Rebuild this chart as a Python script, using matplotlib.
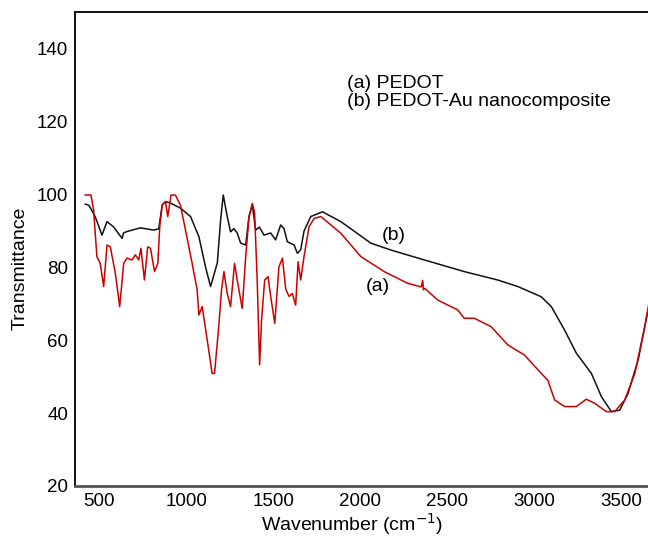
#!/usr/bin/env python3
from __future__ import annotations

import matplotlib

matplotlib.use("Agg")
import matplotlib.pyplot as plt

# (a) PEDOT  -- wavenumber (cm^-1) / transmittance
wn_a = [419, 452, 467, 486, 505, 525, 544, 563, 592, 617, 640, 659, 688, 707, 726, 739,
        759, 778, 794, 817, 836, 847, 861, 880, 893, 903, 912, 937, 966, 995, 1033, 1062,
        1072, 1091, 1120, 1148, 1162, 1186, 1202, 1216, 1235, 1254, 1277, 1292, 1321, 1341,
        1360, 1379, 1392, 1407, 1421, 1432, 1450, 1469, 1485, 1508, 1532, 1552, 1571, 1590,
        1609, 1628, 1642, 1657, 1676, 1705, 1734, 1773, 1888, 2003, 2137, 2271, 2350, 2358,
        2362, 2370, 2444, 2559, 2597, 2655, 2751, 2847, 2943, 3039, 3077, 3116, 3173, 3241,
        3298, 3346, 3413, 3461, 3519, 3577, 3634, 3661]
tr_a = [99.8, 99.8, 95.7, 82.9, 81.0, 74.7, 86.1, 85.6, 78.3, 69.2, 81.1, 82.5, 82.0, 83.4,
        82.0, 85.2, 76.5, 85.6, 85.2, 78.8, 81.0, 91.1, 97.0, 98.0, 93.9, 97.0, 99.8, 99.8,
        97.0, 90.2, 81.1, 73.8, 66.9, 69.2, 60.0, 50.9, 50.9, 63.7, 73.8, 78.8, 72.8, 69.2,
        81.1, 76.5, 68.7, 82.9, 93.9, 97.5, 95.0, 76.5, 53.2, 65.5, 76.5, 77.4, 71.9, 64.6,
        80.1, 82.5, 74.0, 72.0, 72.8, 69.6, 81.5, 76.5, 82.9, 91.1, 93.4, 93.9, 89.3, 82.9,
        78.8, 75.6, 74.6, 76.4, 73.8, 74.2, 71.0, 68.3, 66.0, 66.0, 63.7, 58.7, 55.9, 50.9,
        49.0, 43.6, 41.8, 41.8, 43.8, 42.7, 40.4, 40.4, 43.6, 50.9, 63.7, 71.0]

# (b) PEDOT-Au nanocomposite
wn_b = [419, 440, 477, 515, 544, 581, 631, 639, 659, 736, 811, 841, 861, 880, 909, 966,
        1024, 1072, 1110, 1139, 1178, 1197, 1212, 1235, 1254, 1273, 1292, 1312, 1341, 1360,
        1379, 1398, 1420, 1446, 1484, 1513, 1542, 1561, 1580, 1619, 1638, 1657, 1676, 1715,
        1782, 1888, 2060, 2176, 2367, 2597, 2789, 2905, 3039, 3097, 3173, 3241, 3327, 3385,
        3442, 3490, 3538, 3596, 3653]
tr_b = [97.3, 97.0, 93.8, 88.8, 92.5, 91.1, 87.9, 89.4, 89.8, 90.8, 90.2, 90.5, 97.0, 98.0,
        97.6, 96.2, 93.9, 88.4, 80.1, 74.7, 81.2, 93.0, 99.8, 93.9, 89.7, 90.6, 89.4, 86.6,
        86.1, 93.9, 97.1, 90.2, 91.0, 88.8, 89.4, 87.5, 91.6, 90.6, 87.0, 86.1, 83.8, 84.8,
        89.9, 93.9, 95.2, 92.5, 86.6, 84.7, 82.0, 78.8, 76.5, 74.7, 71.9, 69.2, 62.8, 56.4,
        50.9, 44.5, 40.4, 40.8, 45.4, 54.6, 68.3]

legend_lines = ["(a) PEDOT", "(b) PEDOT-Au nanocomposite"]
x_ticks = [500, 1000, 1500, 2000, 2500, 3000, 3500]
y_ticks = [20, 40, 60, 80, 100, 120, 140]

plt.rcParams["font.family"] = ["Liberation Sans", "DejaVu Sans"]


def main() -> None:
    fig = plt.figure(figsize=(6.48, 5.36), dpi=100)
    ax = fig.add_axes([0.1157, 0.0933, 0.8863, 0.8843])

    ax.plot(wn_b, tr_b, color="#111111", lw=1.1)
    ax.plot(wn_a, tr_a, color="#cc0000", lw=1.1)

    ax.set_xlim(360, 3660)
    ax.set_ylim(20, 150)
    ax.set_xticks(x_ticks)
    ax.set_yticks(y_ticks)
    ax.tick_params(length=0, labelsize=13.5, pad=5)

    ax.spines["right"].set_visible(False)
    ax.spines["left"].set_linewidth(1.3)
    ax.spines["top"].set_linewidth(1.3)
    ax.spines["bottom"].set_linewidth(2.0)
    ax.spines["bottom"].set_color("#555555")

    # axis titles placed by hand to sit where the original has them
    ax.text(0.483, -0.081, "Wavenumber (cm$^{-1}$)", transform=ax.transAxes,
            fontsize=14, ha="center", va="center")
    ax.text(-0.096, 0.46, "Transmittance", transform=ax.transAxes,
            fontsize=14, ha="center", va="center", rotation=90)

    for line, yy in zip(legend_lines, [0.849, 0.812]):
        ax.text(0.473, yy, line, transform=ax.transAxes,
                fontsize=14, va="center", ha="left")
    ax.text(2193, 88.6, "(b)", fontsize=14, ha="center", va="center")
    ax.text(2099, 74.7, "(a)", fontsize=14, ha="center", va="center")

    fig.savefig("out.png", dpi=100)
    plt.close(fig)


if __name__ == "__main__":
    main()
